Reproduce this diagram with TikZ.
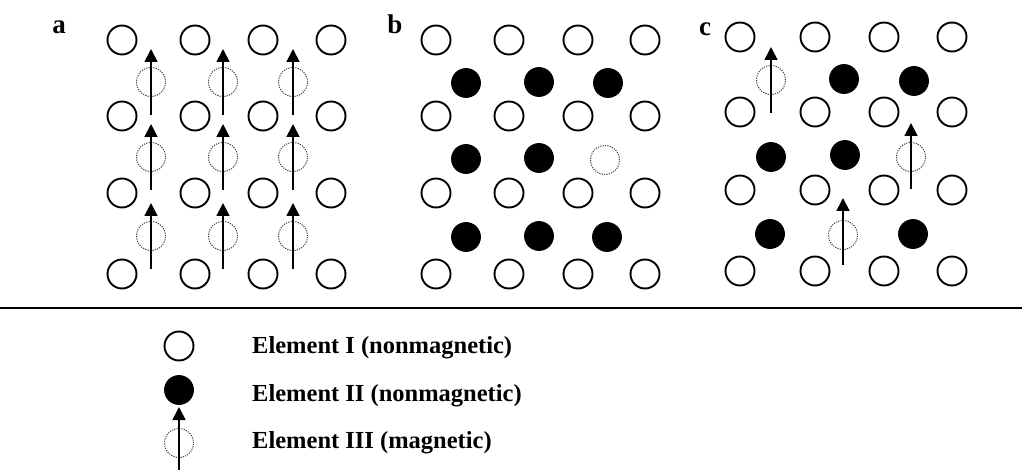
\documentclass[tikz,border=0pt]{standalone}
\usepackage{fontspec}
\setmainfont{Liberation Serif}
\usetikzlibrary{arrows.meta,calc}
\begin{document}
\begin{tikzpicture}[x=1pt,y=-1pt,
  openat/.style={circle,draw=black,line width=1.9pt,minimum size=29pt,inner sep=0pt},
  fillat/.style={circle,fill=black,draw=black,line width=0.8pt,minimum size=29pt,inner sep=0pt},
  magat/.style={circle,draw=black!75,line width=1pt,dash pattern=on 1.2pt off 1.2pt,minimum size=29pt,inner sep=0pt},
  spin/.style={line width=1.8pt,-{Triangle[length=13pt,width=13pt]}},
  panel/.style={font=\bfseries\fontsize{27}{29}\selectfont,inner sep=0pt},
  lab/.style={font=\bfseries\fontsize{24.5}{26}\selectfont,inner sep=0pt,anchor=base west}]
\useasboundingbox (0,0) rectangle (1022,470);
% ---------- panel a
\node[panel] (la) at (59,27) {a};
\foreach \i/\x in {1/122,2/195,3/263,4/331}{
  \foreach \j/\y in {1/40,2/116,3/193,4/274}{
    \node[openat] (a\i\j) at (\x,\y) {};
  }}
\foreach \i/\x in {1/151,2/223,3/293}{
  \foreach \j/\y in {1/82,2/157,3/236}{
    \node[magat] (am\i\j) at (\x,\y) {};
    \draw[spin] ($(am\i\j)+(0,33)$) -- ($(am\i\j)+(0,-33)$);
  }}
% ---------- panel b
\node[panel] (lb) at (395,24) {b};
\foreach \i/\x in {1/436,2/509,3/578,4/645}{
  \foreach \j/\y in {1/40,2/116,3/193,4/274}{
    \node[openat] (b\i\j) at (\x,\y) {};
  }}
\node[fillat] (bf11) at (466,83) {};
\node[fillat] (bf21) at (539,82) {};
\node[fillat] (bf31) at (608,83) {};
\node[fillat] (bf12) at (466,159) {};
\node[fillat] (bf22) at (539,158) {};
\node[magat]  (bm32) at (605,160) {};
\node[fillat] (bf13) at (466,237) {};
\node[fillat] (bf23) at (539,236) {};
\node[fillat] (bf33) at (607,237) {};
% ---------- panel c
\node[panel] (lc) at (705,29) {c};
\foreach \i/\x in {1/740,2/815,3/884,4/952}{
  \foreach \j/\y in {1/37,2/112,3/190,4/271}{
    \node[openat] (c\i\j) at (\x,\y) {};
  }}
\node[magat]  (cm11) at (771,80) {};
\draw[spin] ($(cm11)+(0,33)$) -- ($(cm11)+(0,-33)$);
\node[fillat] (cf21) at (844,79) {};
\node[fillat] (cf31) at (914,81) {};
\node[fillat] (cf12) at (771,157) {};
\node[fillat] (cf22) at (845,155) {};
\node[magat]  (cm32) at (911,157) {};
\draw[spin] ($(cm32)+(0,32)$) -- ($(cm32)+(0,-34)$);
\node[fillat] (cf13) at (770,234) {};
\node[magat]  (cm23) at (843,235) {};
\draw[spin] ($(cm23)+(0,30)$) -- ($(cm23)+(0,-37)$);
\node[fillat] (cf33) at (913,234) {};
% ---------- separator
\coordinate (sl) at (0,308);
\coordinate (sr) at (1022,308);
\draw[line width=1.3pt] (sl) -- (sr);
% ---------- legend
\node[openat] (k1) at (179,346) {};
\node[fillat] (k2) at (179,390) {};
\node[magat]  (k3) at (179,443) {};
\coordinate (k3b) at (179,472);
\draw[spin] (k3b) -- ($(k3)+(0,-36)$);
\node[lab] (t1) at (252,353) {Element I (nonmagnetic)};
\node[lab] (t2) at (252,401) {Element II (nonmagnetic)};
\node[lab] (t3) at (252,448) {Element III (magnetic)};
\end{tikzpicture}
\end{document}
